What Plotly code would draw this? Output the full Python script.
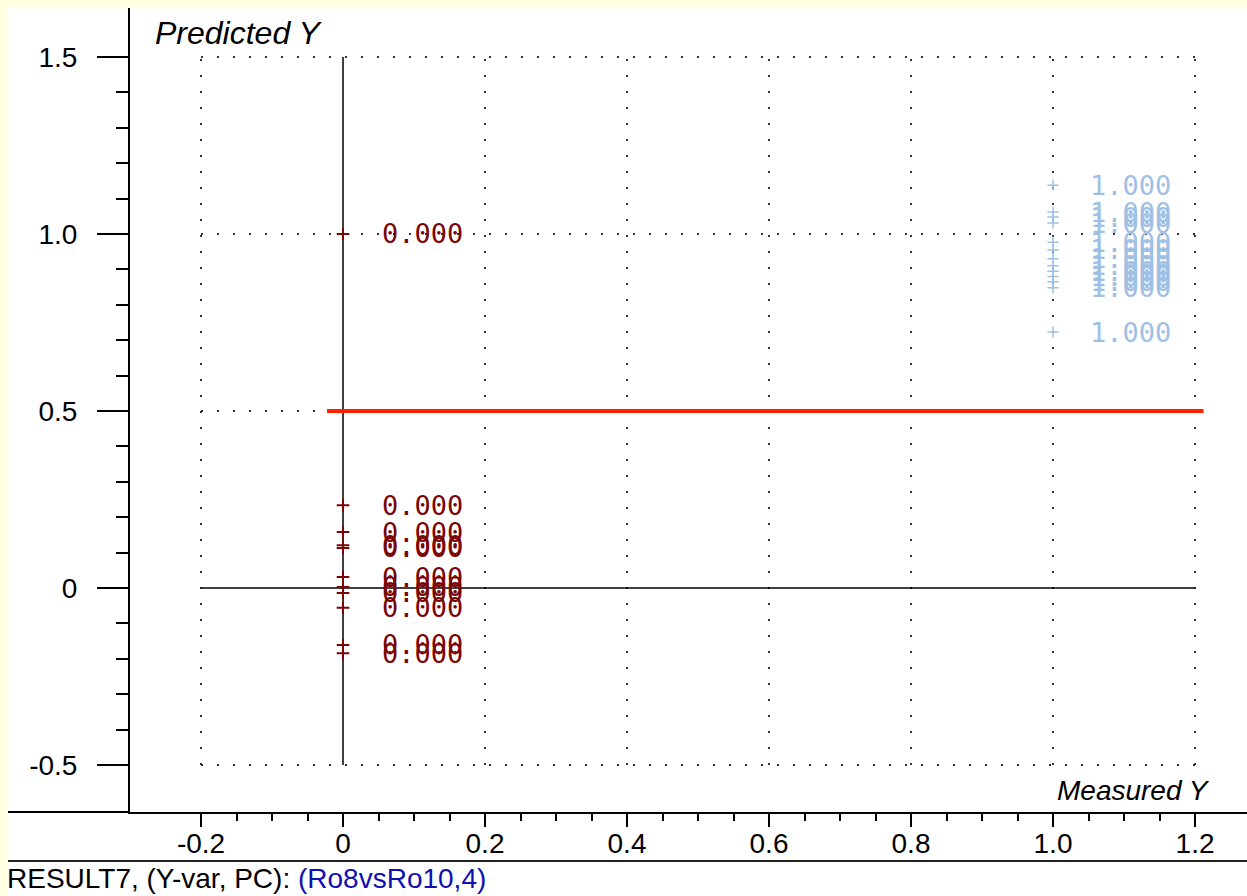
import plotly.graph_objects as go

# ---------------- data ----------------
class0_measured = [0.0] * 11
class0_predicted = [1.0, 0.234, 0.158, 0.121, 0.113, 0.031, 0.003, -0.014, -0.056, -0.161, -0.184]
class0_labels = ["0.000"] * 11

class1_measured = [1.0] * 13
class1_predicted = [1.138, 1.062, 1.048, 1.031, 0.977, 0.955, 0.930, 0.910, 0.895, 0.880, 0.865, 0.848, 0.723]
class1_labels = ["1.000"] * 13

threshold_y = 0.5
threshold_x = [-0.0225, 1.212]

x_tickvals = [-0.2, 0.0, 0.2, 0.4, 0.6, 0.8, 1.0, 1.2]
x_ticktext = ["-0.2", "0", "0.2", "0.4", "0.6", "0.8", "1.0", "1.2"]
y_tickvals = [-0.5, 0.0, 0.5, 1.0, 1.5]
y_ticktext = ["-0.5", "0", "0.5", "1.0", "1.5"]
x_minor = [round(-0.2 + 0.05 * i, 2) for i in range(29)]
y_minor = [round(-0.5 + 0.1 * i, 1) for i in range(21)]
grid_x = [-0.2, 0.2, 0.4, 0.6, 0.8, 1.0, 1.2]
grid_y = [-0.5, 0.5, 1.0, 1.5]
box_x = [-0.2, 1.2]
box_y = [-0.5, 1.5]
x_range = [-0.3, 1.2732]
y_range = [-0.6328, 1.6384]

x_title = "Measured Y"
y_title = "Predicted Y"
footer_black = "RESULT7, (Y-var, PC): "
footer_blue = "(Ro8vsRo10,4)"

# ---------------- layout geometry ----------------
W, H = 1247, 896
L, R, T, B = 130, 0, 8, 84
PW, PH = W - L - R, H - T - B


def pxx(px):
    return (px - L) / PW


def pxy(py):
    return (H - B - py) / PH


DARKRED = "#7a0505"
LIGHTBLUE = "#9fc0e4"
YELLOW = "#ffffe1"

fig = go.Figure()

fig.add_trace(go.Scatter(
    x=class0_measured, y=class0_predicted, mode="markers",
    marker=dict(symbol="cross-thin", size=9, line=dict(color=DARKRED, width=2)),
    showlegend=False, hoverinfo="skip"))
fig.add_trace(go.Scatter(
    x=class1_measured, y=class1_predicted, mode="markers",
    marker=dict(symbol="cross-thin", size=8, line=dict(color=LIGHTBLUE, width=1.5)),
    showlegend=False, hoverinfo="skip"))

shapes = []
# white canvas
shapes.append(dict(type="rect", xref="paper", yref="paper",
                   x0=pxx(8), x1=pxx(W + 2), y0=pxy(H + 2), y1=pxy(8),
                   fillcolor="white", line=dict(width=0), layer="below"))
# axis extension and bottom rule
shapes.append(dict(type="line", xref="paper", yref="paper",
                   x0=pxx(8), x1=pxx(L), y0=pxy(H - B), y1=pxy(H - B),
                   line=dict(color="black", width=2)))
shapes.append(dict(type="line", xref="paper", yref="paper",
                   x0=pxx(8), x1=pxx(W + 2), y0=pxy(861), y1=pxy(861),
                   line=dict(color="#222222", width=2)))
# dotted grid
dots = dict(color="#333333", width=2, dash="2px,14px")
for gx in grid_x:
    shapes.append(dict(type="line", xref="x", yref="y", x0=gx, x1=gx,
                       y0=box_y[0], y1=box_y[1], line=dots, layer="below"))
for gy in grid_y:
    shapes.append(dict(type="line", xref="x", yref="y", x0=box_x[0], x1=box_x[1],
                       y0=gy, y1=gy, line=dots, layer="below"))
# solid zero lines
shapes.append(dict(type="line", xref="x", yref="y", x0=0, x1=0, y0=box_y[0], y1=box_y[1],
                   line=dict(color="black", width=1.5), layer="below"))
shapes.append(dict(type="line", xref="x", yref="y", x0=box_x[0], x1=box_x[1], y0=0, y1=0,
                   line=dict(color="black", width=1.5), layer="below"))
# threshold line
shapes.append(dict(type="line", xref="x", yref="y", x0=threshold_x[0], x1=threshold_x[1],
                   y0=threshold_y, y1=threshold_y, line=dict(color="#ff2200", width=4)))

annotations = []
label_font = "DejaVu Sans Mono, Liberation Mono, monospace"
for xv, yv, t in zip(class0_measured, class0_predicted, class0_labels):
    annotations.append(dict(x=xv, y=yv, xref="x", yref="y", text=t, showarrow=False,
                            xanchor="left", yanchor="middle", xshift=37,
                            font=dict(family=label_font, size=27, color=DARKRED)))
for xv, yv, t in zip(class1_measured, class1_predicted, class1_labels):
    annotations.append(dict(x=xv, y=yv, xref="x", yref="y", text=t, showarrow=False,
                            xanchor="left", yanchor="middle", xshift=35,
                            font=dict(family=label_font, size=27, color=LIGHTBLUE)))

annotations.append(dict(xref="paper", yref="paper", x=pxx(153), y=pxy(33),
                        xanchor="left", yanchor="middle", showarrow=False,
                        text="<i>" + y_title + "</i>",
                        font=dict(family="Liberation Sans, Arial, sans-serif", size=32, color="black")))
annotations.append(dict(xref="paper", yref="paper", x=pxx(1212), y=pxy(790),
                        xanchor="right", yanchor="middle", showarrow=False,
                        text="<i>" + x_title + "</i>",
                        font=dict(family="Liberation Sans, Arial, sans-serif", size=28, color="black")))
annotations.append(dict(xref="paper", yref="paper", x=pxx(5), y=pxy(879),
                        xanchor="left", yanchor="middle", showarrow=False,
                        text=footer_black + "<span style='color:#1010b0'>" + footer_blue + "</span>",
                        font=dict(family="Liberation Sans, Arial, sans-serif", size=28, color="black")))

tick_font = dict(family="Liberation Sans, Arial, sans-serif", size=28, color="black")
fig.update_layout(
    width=W, height=H,
    margin=dict(l=L, r=R, t=T, b=B, pad=0),
    paper_bgcolor=YELLOW, plot_bgcolor="white",
    shapes=shapes, annotations=annotations,
    xaxis=dict(range=x_range,
               showgrid=False, zeroline=False, showline=True, linecolor="black", linewidth=2,
               ticks="outside", ticklen=13, tickwidth=2, tickcolor="black",
               tickmode="array", tickvals=x_tickvals, ticktext=x_ticktext,
               tickfont=tick_font, ticklabelstandoff=-8,
               minor=dict(tickmode="array", tickvals=x_minor, ticks="outside", ticklen=7,
                          tickwidth=1.5, tickcolor="black", showgrid=False),
               fixedrange=True),
    yaxis=dict(range=y_range,
               showgrid=False, zeroline=False, showline=True, linecolor="black", linewidth=2,
               ticks="outside", ticklen=31, tickwidth=2, tickcolor="black",
               tickmode="array", tickvals=y_tickvals, ticktext=y_ticktext,
               tickfont=tick_font, ticklabelstandoff=14,
               minor=dict(tickmode="array", tickvals=y_minor, ticks="outside", ticklen=12,
                          tickwidth=1.5, tickcolor="black", showgrid=False),
               fixedrange=True),
)

fig.write_html(
    "out.html",
    config={"displayModeBar": False},
    post_script="document.body.style.margin='0px';"
                "document.body.style.overflow='hidden';"
                "document.body.style.background='" + YELLOW + "';",
)
